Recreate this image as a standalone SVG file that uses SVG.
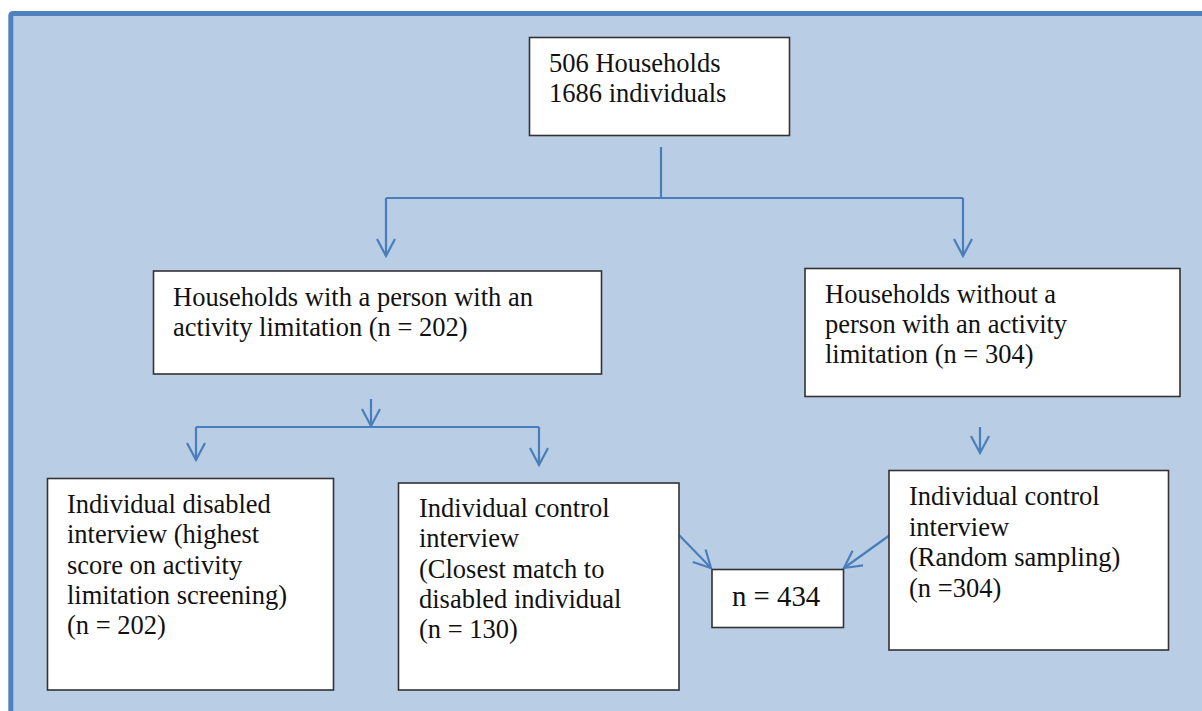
<svg xmlns="http://www.w3.org/2000/svg" width="1202" height="711" viewBox="0 0 1202 711">
  <style>
    .frame { fill: #B9CDE5; stroke: #4F81BD; stroke-width: 5; }
    .box { fill: #FFFFFF; stroke: #333333; stroke-width: 1.6; }
    .lbl { font-family: "Liberation Serif", "Times New Roman", serif; font-size: 26.5px; fill: #111111; }
    .big { font-size: 28.8px; }
    .wire { fill: none; stroke: #4A7EBB; stroke-width: 2.2; }
  </style>
  <defs>
    <marker id="vhead" viewBox="-19 -11 22 22" refX="0" refY="0" markerWidth="22" markerHeight="22" markerUnits="userSpaceOnUse" orient="auto">
      <path d="M-17,-9 L0,0 L-17,9" fill="none" stroke="#4A7EBB" stroke-width="2.2"/>
    </marker>
  </defs>

  <!-- background panel -->
  <rect class="frame" x="10.8" y="13.5" width="1220" height="720" rx="2"/>

  <!-- connectors -->
  <g id="connectors">
    <path class="wire" d="M661,147 V198"/>
    <path class="wire" d="M386,198 H963"/>
    <path class="wire" d="M386,198 V256" marker-end="url(#vhead)"/>
    <path class="wire" d="M963,198 V256" marker-end="url(#vhead)"/>
    <path class="wire" d="M371,399 V426" marker-end="url(#vhead)"/>
    <path class="wire" d="M196,427 H539"/>
    <path class="wire" d="M196,427 V460" marker-end="url(#vhead)"/>
    <path class="wire" d="M539,427 V465" marker-end="url(#vhead)"/>
    <path class="wire" d="M980,427 V453" marker-end="url(#vhead)"/>
    <path class="wire" d="M679,535 L711,568" marker-end="url(#vhead)"/>
    <path class="wire" d="M890,535 L844,568" marker-end="url(#vhead)"/>
  </g>

  <g id="all-households">
    <rect class="box" x="529.5" y="37.5" width="260" height="98"/>
    <text class="lbl" x="549" y="72">506 Households<tspan x="549" dy="30">1686 individuals</tspan></text>
  </g>

  <g id="with-limitation">
    <rect class="box" x="153.5" y="271" width="448" height="103"/>
    <text class="lbl" x="173" y="306">Households with a person with an<tspan x="173" dy="30">activity limitation (n = 202)</tspan></text>
  </g>

  <g id="without-limitation">
    <rect class="box" x="805" y="268.5" width="375" height="128"/>
    <text class="lbl" x="825" y="303">Households without a<tspan x="825" dy="30">person with an activity</tspan><tspan x="825" dy="30">limitation (n = 304)</tspan></text>
  </g>

  <g id="disabled-interview">
    <rect class="box" x="47.5" y="478.5" width="286" height="211.5"/>
    <text class="lbl" x="67" y="513">Individual disabled<tspan x="67" dy="30.3">interview (highest</tspan><tspan x="67" dy="30.3">score on activity</tspan><tspan x="67" dy="30.3">limitation screening)</tspan><tspan x="67" dy="30.3">(n = 202)</tspan></text>
  </g>

  <g id="matched-control">
    <rect class="box" x="398.5" y="483" width="280.5" height="207"/>
    <text class="lbl" x="419" y="517">Individual control<tspan x="419" dy="30.3">interview</tspan><tspan x="419" dy="30.3">(Closest match to</tspan><tspan x="419" dy="30.3">disabled individual</tspan><tspan x="419" dy="30.3">(n = 130)</tspan></text>
  </g>

  <g id="total-controls">
    <rect class="box" x="712" y="569.5" width="131.5" height="58"/>
    <text class="lbl big" x="732" y="606">n = 434</text>
  </g>

  <g id="random-control">
    <rect class="box" x="889" y="470.5" width="279.5" height="179.5"/>
    <text class="lbl" x="909" y="505">Individual control<tspan x="909" dy="30.5">interview</tspan><tspan x="909" dy="30.5">(Random sampling)</tspan><tspan x="909" dy="30.5">(n =304)</tspan></text>
  </g>
</svg>
